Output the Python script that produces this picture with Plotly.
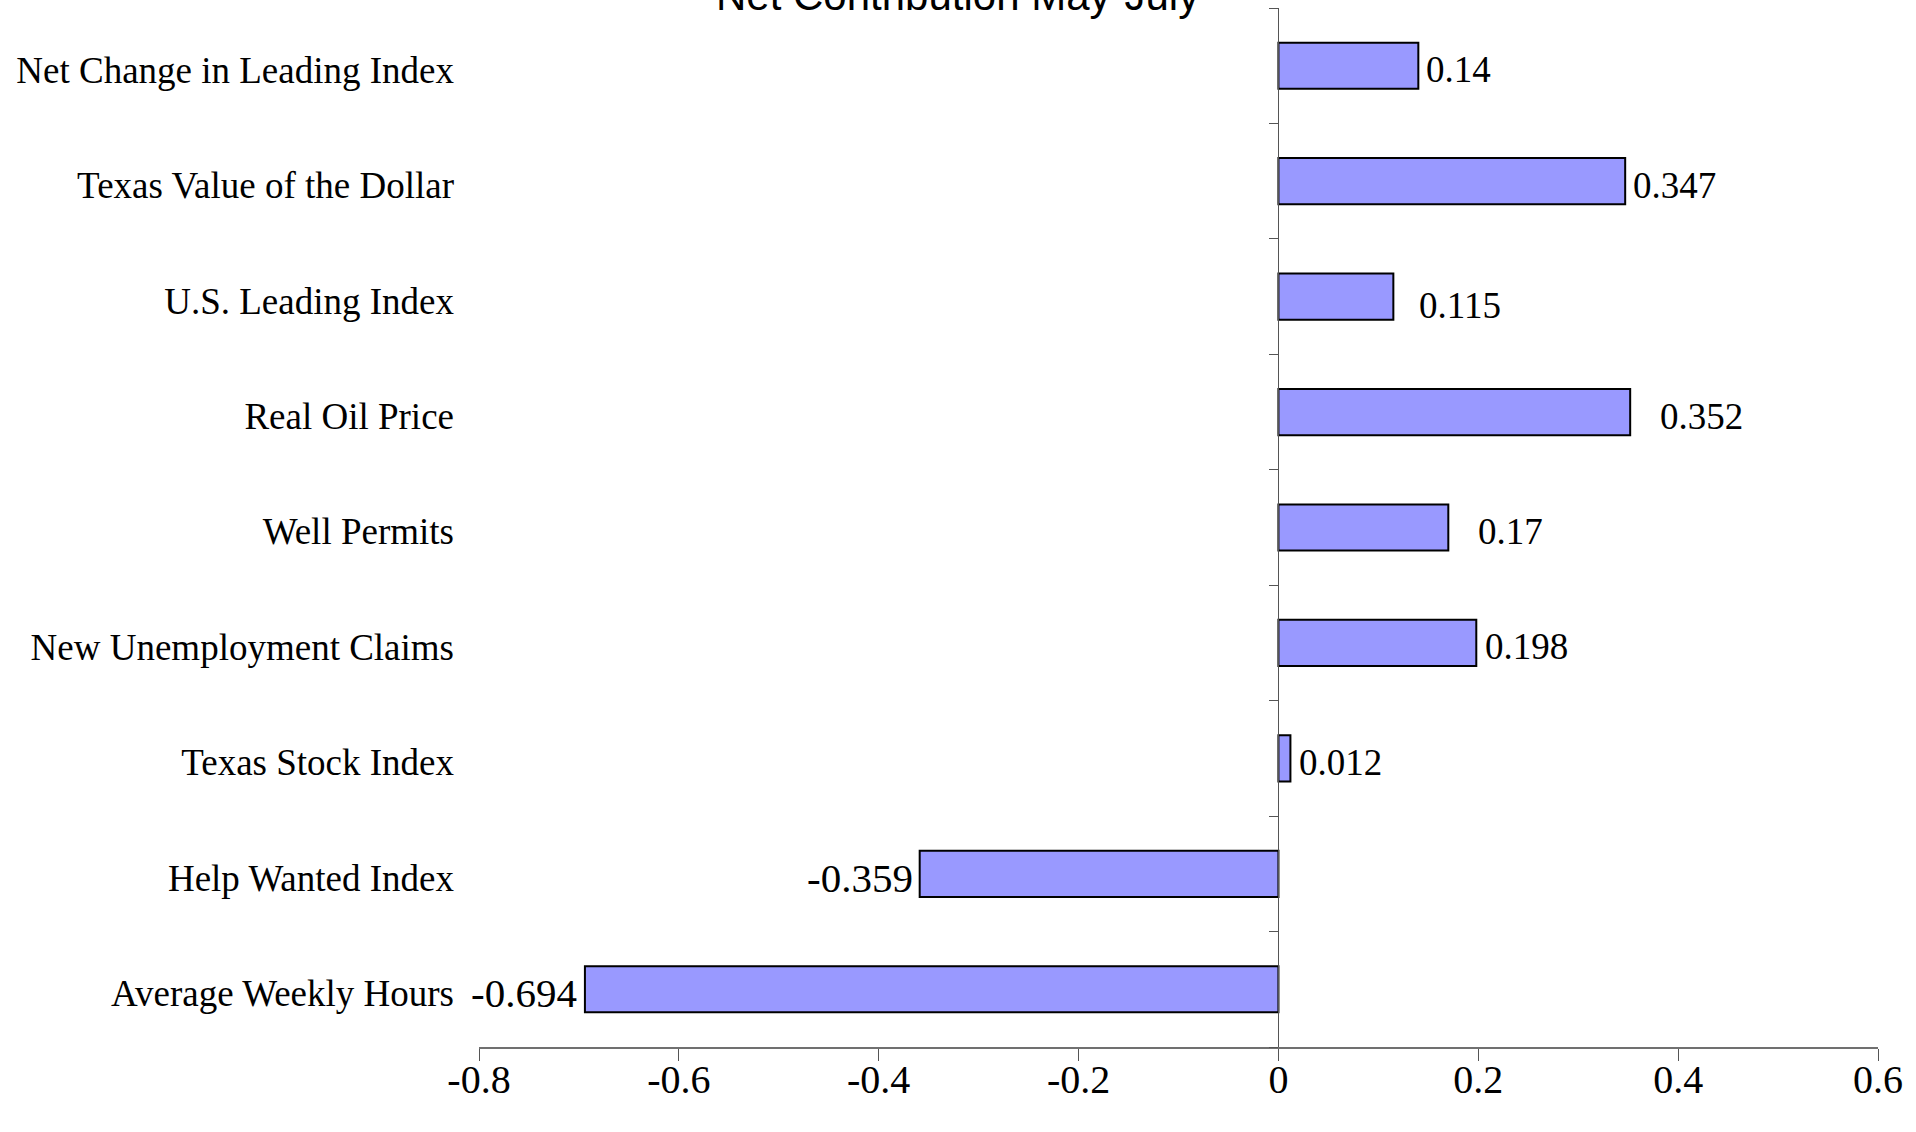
import plotly.graph_objects as go

# Components of the leading index, bottom to top
categories = [
    "Average Weekly Hours",
    "Help Wanted Index",
    "Texas Stock Index",
    "New Unemployment Claims",
    "Well Permits",
    "Real Oil Price",
    "U.S. Leading Index",
    "Texas Value of the Dollar",
    "Net Change in Leading Index",
]
contributions = [-0.694, -0.359, 0.012, 0.198, 0.17, 0.352, 0.115, 0.347, 0.14]

x_tick_values = [-0.8, -0.6, -0.4, -0.2, 0, 0.2, 0.4, 0.6]
x_tick_labels = ["-0.8", "-0.6", "-0.4", "-0.2", "0", "0.2", "0.4", "0.6"]

title_text = "Net Contribution May-July"

# Label offsets (px) from the bar end: (xshift, yshift)
label_offsets = [(-6, -4), (-5, -4), (7, -4), (7, -4), (28, -4), (28, -4), (24, -9), (6, -4), (6, -4)]

X_MIN, X_MAX = -0.8, 0.6
W, H = 1916, 1132
M_L, M_R, M_T, M_B = 479, 38, 8, 85

serif = "Liberation Serif, Times New Roman, serif"

fig = go.Figure()
fig.add_trace(go.Bar(
    x=contributions,
    y=categories,
    orientation="h",
    width=0.4,
    marker=dict(color="#9999FF", line=dict(color="#000000", width=2)),
    hoverinfo="x+y",
))

# Value labels beside each bar
annotations = []
for cat, val, (dx, dy) in zip(categories, contributions, label_offsets):
    neg = val < 0
    annotations.append(dict(
        x=val, y=cat, xref="x", yref="y",
        text=f"{val:g}",
        showarrow=False,
        xanchor="right" if neg else "left",
        yanchor="middle",
        xshift=dx, yshift=dy,
        font=dict(family=serif, size=41 if neg else 37, color="#000000"),
    ))

# Chart title, partly above the page edge
zero_frac = (0 - X_MIN) / (X_MAX - X_MIN)
annotations.append(dict(
    x=0.342, y=1, xref="paper", yref="paper",
    text=title_text, showarrow=False,
    xanchor="center", yanchor="bottom", yshift=-13,
    font=dict(family="Liberation Sans, Arial, sans-serif", size=42, color="#000000"),
))

n = len(categories)
fig.update_layout(
    width=W, height=H,
    margin=dict(l=M_L, r=M_R, t=M_T, b=M_B, autoexpand=False),
    paper_bgcolor="#FFFFFF",
    plot_bgcolor="#FFFFFF",
    showlegend=False,
    annotations=annotations,
    xaxis=dict(
        range=[X_MIN, X_MAX],
        automargin=False,
        tickvals=x_tick_values,
        ticktext=x_tick_labels,
        ticks="outside", ticklen=12, tickcolor="#555555", tickwidth=1,
        ticklabelstandoff=-16,
        showline=True, linecolor="#707070", linewidth=2,
        showgrid=False, zeroline=False,
        tickfont=dict(family=serif, size=40, color="#000000"),
    ),
    yaxis=dict(
        type="category",
        automargin=False,
        categoryorder="array", categoryarray=categories,
        range=[-0.5, n - 0.5],
        showline=False, showgrid=False, zeroline=False,
        ticks="", ticklabelstandoff=24, ticklabelshift=4,
        tickfont=dict(family=serif, size=37, color="#000000"),
    ),
    # Category axis drawn through zero, ticks on category boundaries
    yaxis2=dict(
        overlaying="y", anchor="free", position=zero_frac, side="left",
        automargin=False,
        range=[-0.5, n - 0.5],
        tickvals=[i - 0.5 for i in range(n + 1)],
        showticklabels=False,
        ticks="outside", ticklen=9, tickcolor="#555555", tickwidth=1,
        showline=True, linecolor="#555555", linewidth=1,
        showgrid=False, zeroline=False,
    ),
)

# Invisible trace so the overlay axis is rendered
fig.add_trace(go.Scatter(x=[0], y=[0], yaxis="y2", mode="markers",
                         marker=dict(opacity=0), hoverinfo="skip"))

fig.write_html("out.html")
